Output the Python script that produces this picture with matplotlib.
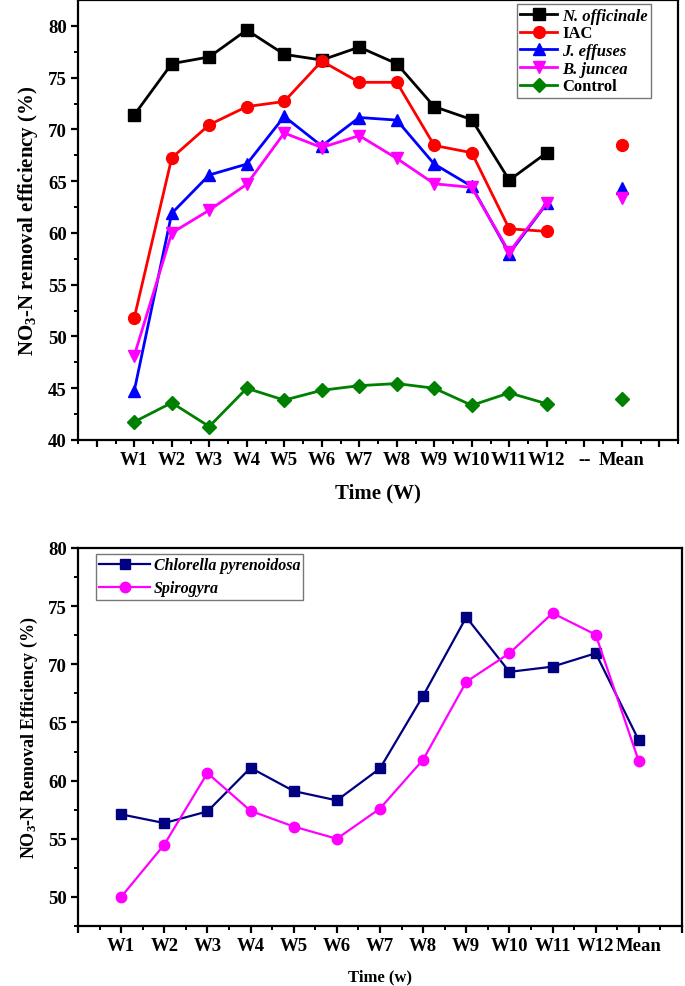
import matplotlib
matplotlib.use("Agg")
import matplotlib.pyplot as plt
import numpy as np

plt.rcParams['font.family'] = ['Liberation Serif', 'DejaVu Serif']
plt.rcParams['font.weight'] = 'bold'
plt.rcParams['mathtext.fontset'] = 'custom'
plt.rcParams['mathtext.rm'] = 'Liberation Serif:bold'
plt.rcParams['mathtext.it'] = 'Liberation Serif:bold:italic'
plt.rcParams['mathtext.bf'] = 'Liberation Serif:bold'
plt.rcParams['mathtext.default'] = 'rm'

# ---------------- Top chart data ----------------
top_weeks = ['W1', 'W2', 'W3', 'W4', 'W5', 'W6', 'W7', 'W8', 'W9', 'W10', 'W11', 'W12']
top_tick_labels = ['W1', 'W2', 'W3', 'W4', 'W5', 'W6', 'W7', 'W8', 'W9', 'W10', 'W11', 'W12', '--', 'Mean']

n_officinale = [71.4, 76.35, 77.0, 79.6, 77.25, 76.7, 77.95, 76.35, 72.2, 70.95, 65.1, 67.75]
iac = [51.8, 67.25, 70.45, 72.2, 72.7, 76.6, 74.55, 74.55, 68.45, 67.75, 60.4, 60.15]
j_effuses = [44.75, 61.9, 65.6, 66.65, 71.25, 68.4, 71.15, 70.9, 66.65, 64.5, 58.0, 62.85]
b_juncea = [48.15, 60.0, 62.2, 64.7, 69.65, 68.25, 69.4, 67.2, 64.75, 64.4, 58.15, 62.9]
control = [41.75, 43.6, 41.3, 45.0, 43.85, 44.8, 45.25, 45.45, 45.0, 43.35, 44.55, 43.5]

mean_iac = 68.45
mean_j_effuses = 64.35
mean_b_juncea = 63.35
mean_control = 43.95

# ---------------- Bottom chart data ----------------
bottom_labels = ['W1', 'W2', 'W3', 'W4', 'W5', 'W6', 'W7', 'W8', 'W9', 'W10', 'W11', 'W12', 'Mean']
chlorella = [57.1, 56.35, 57.35, 61.1, 59.1, 58.3, 61.05, 67.3, 74.05, 69.35, 69.8, 70.95, 63.45]
spirogyra = [50.0, 54.5, 60.65, 57.4, 56.05, 55.0, 57.6, 61.8, 68.5, 70.95, 74.4, 72.55, 61.65]

W, H = 685, 987
fig = plt.figure(figsize=(W / 100, H / 100), dpi=100)

def frac(l, t, r, b):
    return [l / W, 1 - b / H, (r - l) / W, (b - t) / H]

# ---------------- Top axes ----------------
ax1 = fig.add_axes(frac(78, 1, 678, 441))
xw = np.arange(1, len(top_weeks) + 1)
lw = 2.0
ms = 8.5
series = [
    (n_officinale, 'k', 's', 'N. officinale', None, True),
    (iac, '#FF0000', 'o', 'IAC', mean_iac, False),
    (j_effuses, '#0000FF', '^', 'J. effuses', mean_j_effuses, True),
    (b_juncea, '#FF00FF', 'v', 'B. juncea', mean_b_juncea, True),
    (control, '#008000', 'D', 'Control', mean_control, False),
]
mean_x = len(top_tick_labels)
for vals, c, m, lab, mv, it in series:
    msz = ms - 1 if m == 'D' else ms
    ax1.plot(xw, vals, color=c, marker=m, lw=lw, ms=msz, label=lab)
    if mv is not None:
        ax1.plot([mean_x], [mv], color=c, marker=m, lw=0, ms=msz)

ax1.set_xlim(-0.5, 15.5)
ax1.set_ylim(40, 82.5)
ax1.set_xticks(np.arange(0, 16))
ax1.set_xticklabels([''] + top_tick_labels + [''])
ax1.set_xticks(np.arange(-0.5, 15.6, 0.5), minor=True)
ax1.set_yticks([40, 45, 50, 55, 60, 65, 70, 75, 80])
ax1.set_yticks(np.arange(42.5, 82.5, 5), minor=True)
ax1.set_xlabel('Time (W)', fontsize=15, fontweight='bold', labelpad=10)
ax1.set_ylabel(r'NO$_3$-N removal efficiency (%)', fontsize=15, fontweight='bold', labelpad=6)
leg1 = ax1.legend(loc='upper right', bbox_to_anchor=(0.955, 0.99), fontsize=12,
                  frameon=True, fancybox=False, edgecolor='#555555', handlelength=2.2,
                  borderpad=0.2, labelspacing=0.1, handletextpad=0.3, borderaxespad=0)
leg1.get_frame().set_linewidth(1.0)
for txt, s in zip(leg1.get_texts(), series):
    if s[5]:
        txt.set_fontstyle('italic')

# ---------------- Bottom axes ----------------
ax2 = fig.add_axes(frac(78, 549, 682, 927))
xb = np.arange(1, len(bottom_labels) + 1)
ax2.plot(xb, chlorella, color='#000080', marker='s', lw=1.6, ms=7,
         label='Chlorella pyrenoidosa')
ax2.plot(xb, spirogyra, color='#FF00FF', marker='o', lw=1.6, ms=7.5,
         label='Spirogyra')
ax2.set_xlim(0, 14)
ax2.set_ylim(47.5, 80)
ax2.set_xticks(np.arange(0, 15))
ax2.set_xticklabels([''] + bottom_labels + [''])
ax2.set_xticks(np.arange(0, 14.1, 0.5), minor=True)
ax2.set_yticks([50, 55, 60, 65, 70, 75, 80])
ax2.set_yticks(np.arange(47.5, 80, 2.5), minor=True)
ax2.set_xlabel('Time (w)', fontsize=12, fontweight='bold', labelpad=10)
ax2.set_ylabel(r'NO$_3$-N Removal Efficiency (%)', fontsize=13, fontweight='bold', labelpad=6)
leg2 = ax2.legend(loc='upper left', bbox_to_anchor=(0.03, 0.984), fontsize=11.5,
                  frameon=True, fancybox=False, edgecolor='#555555', handlelength=3.2,
                  borderpad=0.2, labelspacing=0.45, handletextpad=0.2, borderaxespad=0)
leg2.get_frame().set_linewidth(1.0)
for txt in leg2.get_texts():
    txt.set_fontstyle('italic')

for ax in (ax1, ax2):
    for s in ax.spines.values():
        s.set_linewidth(1.6)
    ax.tick_params(which='major', direction='out', length=5, width=1.6, labelsize=13.5, pad=3)
    ax.tick_params(which='minor', direction='out', length=3, width=1.4)
    for t in ax.get_xticklabels() + ax.get_yticklabels():
        t.set_fontweight('bold')

fig.savefig('out.png', dpi=100)
